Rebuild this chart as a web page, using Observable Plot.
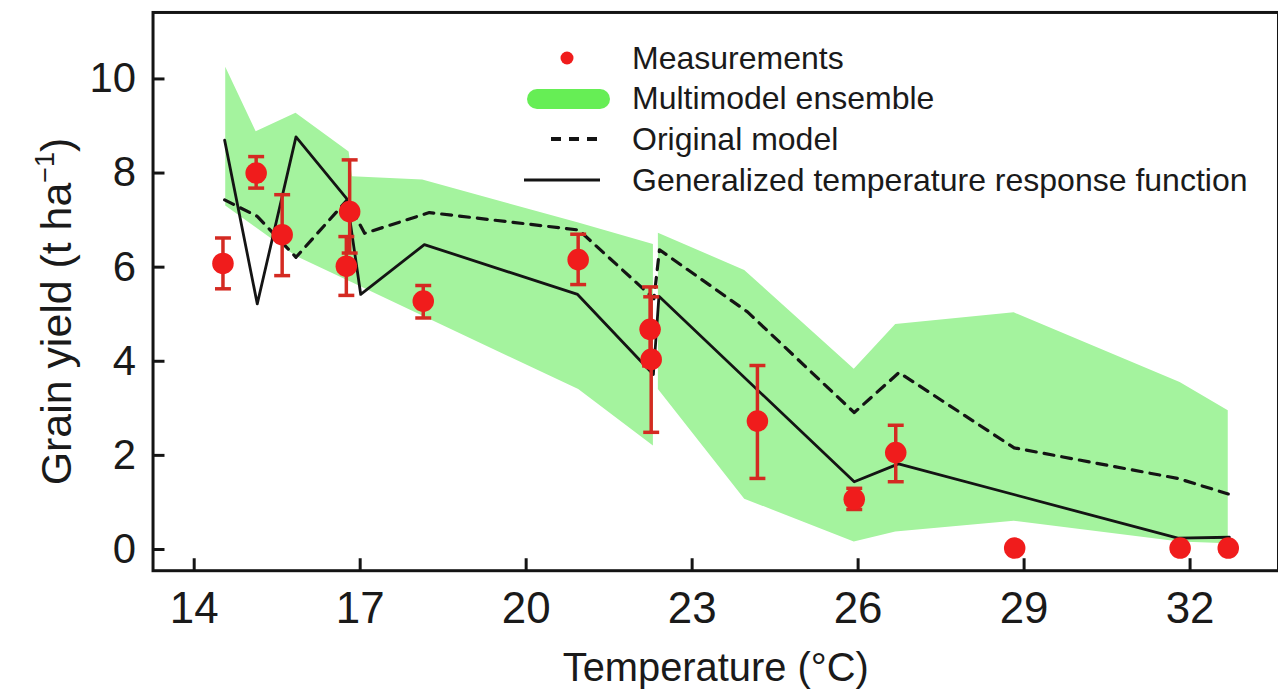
<!DOCTYPE html>
<html><head><meta charset="utf-8">
<script src="https://cdn.jsdelivr.net/npm/d3@7"></script>
<script src="https://cdn.jsdelivr.net/npm/@observablehq/plot@0.6"></script>
<style>
html,body{margin:0;padding:0;background:#fff;overflow:hidden;}
#wrap{position:relative;width:1278px;height:697px;overflow:hidden;}
#legend{position:absolute;left:0;top:0;font-family:"Liberation Sans",Arial,sans-serif;font-size:32px;color:#1a1a1a;}
.row{position:absolute;left:520px;height:40px;display:flex;align-items:center;white-space:nowrap;}
.row svg{flex:none;}
</style></head>
<body><div id="wrap"></div>
<script>
// Axis ticks
const tempTicks = [14, 17, 20, 23, 26, 29, 32];
const yieldTicks = [0, 2, 4, 6, 8, 10];

// Measurements (mean with error range)
const measTemp  = [14.52, 15.12, 15.59, 16.81, 16.75, 18.14, 20.94, 22.24, 22.26, 24.18, 25.93, 26.68, 28.83, 31.82, 32.69];
const measYield = [6.08, 8.00, 6.69, 7.18, 6.02, 5.28, 6.16, 4.68, 4.04, 2.73, 1.07, 2.06, 0.03, 0.03, 0.03];
const measLow   = [5.54, 7.68, 5.82, 6.30, 5.40, 4.92, 5.63, 3.90, 2.49, 1.51, 0.85, 1.44, null, null, null];
const measHigh  = [6.62, 8.35, 7.54, 8.28, 6.65, 5.61, 6.70, 5.58, 5.37, 3.91, 1.30, 2.64, null, null, null];

// Multimodel ensemble band (two pieces)
const ensTemp  = [14.57, 15.12, 15.84, 16.80, 16.86, 18.13, 20.95, 22.30, 22.39, 23.95, 25.93, 26.68, 28.82, 31.82, 32.69];
const ensLow   = [7.30, 6.84, 6.23, 5.70, 5.67, 4.96, 3.40, 2.20, 3.40, 1.07, 0.16, 0.37, 0.60, 0.16, 0.12];
const ensHigh  = [10.25, 8.88, 9.27, 8.45, 7.92, 7.85, 6.94, 6.48, 6.72, 5.93, 3.83, 4.78, 5.03, 3.55, 2.95];
const ensPiece = [1, 1, 1, 1, 1, 1, 1, 1, 2, 2, 2, 2, 2, 2, 2];

// Original model (dashed)
const origTemp  = [14.55, 15.14, 15.84, 16.76, 17.08, 18.25, 20.95, 22.31, 22.41, 24.00, 25.93, 26.74, 28.82, 31.78, 32.69];
const origYield = [7.43, 7.08, 6.21, 7.42, 6.72, 7.16, 6.79, 5.33, 6.37, 5.05, 2.91, 3.76, 2.16, 1.51, 1.18];

// Generalized temperature response function (solid)
const gtrfTemp  = [14.55, 15.14, 15.84, 16.76, 17.01, 18.16, 20.93, 22.30, 22.40, 25.93, 26.73, 31.78, 32.71];
const gtrfYield = [8.70, 5.22, 8.77, 7.45, 5.42, 6.48, 5.42, 3.72, 5.38, 1.44, 1.82, 0.24, 0.26];

const meas = measTemp.map((t, i) => ({t, y: measYield[i], lo: measLow[i], hi: measHigh[i]}));
const bars = meas.filter(d => d.lo != null);
const caps = bars.flatMap(d => [{t: d.t, y: d.lo}, {t: d.t, y: d.hi}]);
const ens = ensTemp.map((t, i) => ({t, lo: ensLow[i], hi: ensHigh[i], piece: ensPiece[i]}));
const orig = origTemp.map((t, i) => ({t, y: origYield[i]}));
const gtrf = gtrfTemp.map((t, i) => ({t, y: gtrfYield[i]}));

const capSymbol = {draw(ctx, size) { const r = Math.sqrt(size / Math.PI); ctx.moveTo(-r, 0); ctx.lineTo(r, 0); }};

const RED = "#f01c1c", BAR = "#d42a22", INK = "#141414", TXT = "#1a1a1a";
const font = "Liberation Sans, Arial, sans-serif";
const yLabel = "Grain yield (t ha−1)";

const chart = Plot.plot({
  width: 1282, height: 697,
  marginLeft: 153, marginRight: 0, marginTop: 12, marginBottom: 125,
  x: {domain: [13.256, 33.598]},
  y: {domain: [-0.451, 11.413]},
  style: {fontFamily: font, background: "white", color: TXT, overflow: "visible"},
  marks: [
    Plot.areaY(ens, {x: "t", y1: "lo", y2: "hi", z: "piece", fill: "#a4f39e"}),
    Plot.line(orig, {x: "t", y: "y", stroke: INK, strokeWidth: 3.2, strokeDasharray: "10,8"}),
    Plot.line(gtrf, {x: "t", y: "y", stroke: INK, strokeWidth: 2.8}),
    Plot.ruleX(bars, {x: "t", y1: "lo", y2: "hi", stroke: BAR, strokeWidth: 3.5}),
    Plot.dot(caps, {x: "t", y: "y", symbol: capSymbol, r: 8, stroke: BAR, strokeWidth: 3.5}),
    Plot.dot(meas, {x: "t", y: "y", r: 10.8, fill: RED}),
    Plot.frame({stroke: INK, strokeWidth: 3}),
    Plot.axisY(yieldTicks, {tickSize: -12, tickFormat: () => "", strokeWidth: 3, stroke: INK, label: null}),
    Plot.axisY(yieldTicks, {tickSize: 0, tickPadding: 17, fontSize: 42, label: null}),
    Plot.axisX(tempTicks, {tickSize: -12, tickFormat: () => "", strokeWidth: 3, stroke: INK, label: null}),
    Plot.axisX(tempTicks, {tickSize: 0, tickPadding: 21, fontSize: 44, label: null}),
    Plot.text(["Temperature (°C)"], {frameAnchor: "bottom", textAnchor: "middle", dy: 111, fontSize: 40, fill: TXT}),
    Plot.text([yLabel], {frameAnchor: "left", textAnchor: "middle", rotate: -90, dx: -96, dy: 20, fontSize: 43, fill: TXT})
  ]
});

// superscript for the y label
chart.querySelectorAll("text").forEach(el => {
  if (el.textContent === yLabel) {
    while (el.firstChild) el.removeChild(el.firstChild);
    const ns = "http://www.w3.org/2000/svg";
    const a = document.createElementNS(ns, "tspan"); a.textContent = "Grain yield (t ha";
    const b = document.createElementNS(ns, "tspan"); b.textContent = "−1"; b.setAttribute("dy", "-17"); b.setAttribute("font-size", "27");
    const c = document.createElementNS(ns, "tspan"); c.textContent = ")"; c.setAttribute("dy", "17");
    el.append(a, b, c);
  }
});

const wrap = document.getElementById("wrap");
wrap.appendChild(chart);

// Legend
const legendItems = [
  {label: "Measurements", kind: "dot"},
  {label: "Multimodel ensemble", kind: "band"},
  {label: "Original model", kind: "dash"},
  {label: "Generalized temperature response function", kind: "solid"}
];
const legend = document.createElement("div");
legend.id = "legend";
legendItems.forEach((item, i) => {
  const row = document.createElement("div");
  row.className = "row";
  row.style.top = (38 + i * 40.7) + "px";
  let sw = "";
  if (item.kind === "dot") sw = `<circle cx="47" cy="20" r="6.5" fill="${RED}"/>`;
  if (item.kind === "band") sw = `<rect x="7" y="10" width="83" height="20" rx="10" fill="#66ee55"/>`;
  if (item.kind === "dash") sw = `<line x1="31" x2="82" y1="20" y2="20" stroke="${INK}" stroke-width="4" stroke-dasharray="10,8"/>`;
  if (item.kind === "solid") sw = `<line x1="4" x2="80" y1="20" y2="20" stroke="${INK}" stroke-width="3"/>`;
  row.innerHTML = `<svg width="112" height="40">${sw}</svg><span>${item.label}</span>`;
  legend.appendChild(row);
});
wrap.appendChild(legend);
</script>
</body></html>
